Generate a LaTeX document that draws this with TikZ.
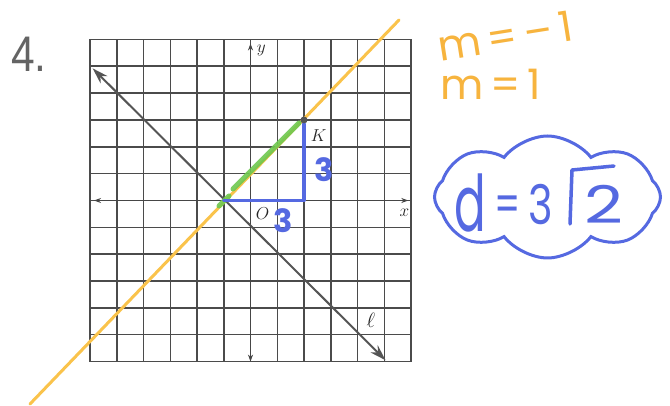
\documentclass[tikz,border=0pt]{standalone}
\usepackage{fontspec}
\usepackage{graphicx}
\usetikzlibrary{arrows.meta,shapes.symbols}
\newfontfamily\hand{Poppins}
\newfontfamily\printed{Liberation Sans}
\definecolor{gridc}{RGB}{75,75,75}
\definecolor{axisc}{RGB}{70,70,70}
\definecolor{ellc}{RGB}{85,85,85}
\definecolor{orangec}{RGB}{250,195,75}
\definecolor{orangetext}{RGB}{247,180,62}
\definecolor{greenc}{RGB}{110,200,80}
\definecolor{bluec}{RGB}{85,105,225}
\definecolor{numc}{RGB}{100,100,100}
\begin{document}
\begin{tikzpicture}[x=1pt,y=-1pt,
  gridline/.style={draw=gridc, line width=1.5pt},
  axisline/.style={draw=axisc, line width=1.6pt, {Stealth[length=7pt,width=5pt]}-{Stealth[length=7pt,width=5pt]}},
  ellline/.style={draw=ellc, line width=2pt, {Stealth[length=16pt,width=10pt,inset=5pt]}-{Stealth[length=16pt,width=10pt,inset=5pt]}},
  orangeline/.style={draw=orangec, line width=3pt, line cap=round},
  greenhl/.style={draw=greenc, line width=5pt, line cap=round, opacity=0.9},
  blueleg/.style={draw=bluec, line width=3.5pt, line cap=round, line join=round},
  kdot/.style={circle, fill=ellc, inner sep=0pt, minimum size=7pt},
  axlabel/.style={font=\fontsize{17}{17}\selectfont, text=black!85},
  bluenum/.style={font=\hand\bfseries\fontsize{32}{32}\selectfont, text=bluec},
  orangehand/.style={font=\hand\fontsize{42}{42}\selectfont, text=orangetext},
  bluehand/.style={font=\hand\fontsize{52}{52}\selectfont, text=bluec, inner sep=0pt},
  cloudstyle/.style={cloud, draw=bluec, line width=3pt, cloud puffs=8, cloud puff arc=105, aspect=1.8, minimum width=226pt, minimum height=122pt, inner sep=0pt}
]
\useasboundingbox (0,0) rectangle (670,406);
\fill[white] (0,0) rectangle (670,406);

% problem number
\node[anchor=base west, inner sep=0pt, text=numc, font=\printed\fontsize{50}{50}\selectfont] (num) at (11,72) {\scalebox{0.85}[1]{4.}};

\begin{scope}[shift={(250.5,200.5)}, x=26.75pt, y=26.85pt]
  \draw[gridline, step=1] (-6,-6) grid (6,6);
  \coordinate (xl) at (-5.85,0);
  \coordinate (xr) at (5.9,0);
  \coordinate (yb) at (0,-6);
  \coordinate (yt) at (0,5.85);
  \draw[axisline] (xl) -- (xr);
  \draw[axisline] (yb) -- (yt);
  \coordinate (l1) at (-5.9,4.92);
  \coordinate (l2) at (5.05,-5.95);
  \draw[ellline] (l1) -- (l2);
  \coordinate (A) at (-1,0);
  \coordinate (C) at (2,0);
  \coordinate (Kc) at (2,3);
  \coordinate (Ktop) at (2,2.85);
  \node[axlabel] (ylab) at (0.4,5.6) {$y$};
  \node[axlabel] (xlab) at (5.75,-0.45) {$x$};
  \node[axlabel] (olab) at (0.45,-0.5) {$O$};
  \node[axlabel] (klab) at (2.55,2.4) {$K$};
  \node[axlabel, font=\fontsize{20}{20}\selectfont] (elab) at (4.5,-4.45) {$\ell$};
\end{scope}

% orange line
\coordinate (o1) at (30,404);
\coordinate (o2) at (399,20);
\draw[orangeline] (o1) -- (o2);

% green highlight
\coordinate (g1) at (219,206);
\coordinate (g2) at (229,196);
\coordinate (g3) at (233,189);
\coordinate (g4) at (299,123);
\draw[greenhl] (g1) -- (g2);
\draw[greenhl] (g3) -- (g4);

% blue legs
\draw[blueleg] (A) -- (C) -- (Ktop);
\node[kdot] (K) at (Kc) {};

\begin{scope}[shift={(250.5,200.5)}, x=26.75pt, y=26.85pt]
  \node[bluenum] (three1) at (2.75,1.14) {3};
  \node[bluenum] (three2) at (1.21,-0.76) {3};
\end{scope}

% slopes
\node[orangehand, anchor=base west, rotate=9, inner sep=0pt] (m1) at (440,62) {m\,=\,–\,1};
\node[orangehand, anchor=base west, inner sep=0pt] (m2) at (440,100) {m\,=\,1};

% cloud with distance
\node[cloudstyle] (cl) at (547.5,197) {};
\node[bluehand, anchor=base] (dd) at (470,232) {\scalebox{0.9}[1.5]{d}};
\node[bluehand, anchor=base] (eq) at (508,223) {\scalebox{0.7}[1]{=}};
\node[bluehand, anchor=base] (th) at (541,225) {\scalebox{0.8}[1.05]{3}};
\node[bluehand, anchor=base] (two) at (604,224) {\scalebox{1.3}[1]{2}};
\coordinate (r1) at (570,224);
\coordinate (r2) at (572,170);
\coordinate (r3) at (614,166);
\draw[blueleg] (r1) -- (r2) -- (r3);
\end{tikzpicture}
\end{document}
